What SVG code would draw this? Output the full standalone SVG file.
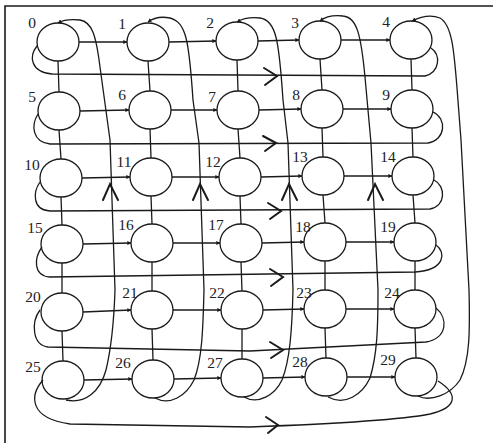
<svg xmlns="http://www.w3.org/2000/svg" width="493" height="443" viewBox="0 0 493 443">
<defs>
<style>
.n{fill:none;stroke:#1a1a1a;stroke-width:1.3}
.e{fill:none;stroke:#1a1a1a;stroke-width:1.3}
.h{fill:none;stroke:#1a1a1a;stroke-width:1.3;marker-end:url(#ah)}
.w{fill:none;stroke:#1a1a1a;stroke-width:1.3;marker-end:url(#ah)}
.c{fill:none;stroke:#1a1a1a;stroke-width:2;stroke-linecap:round;stroke-linejoin:miter}
.t{font-family:"Liberation Serif","Times New Roman",serif;font-size:15.5px;fill:#222;text-anchor:middle}
</style>
<marker id="ah" viewBox="0 0 6 6" refX="5.5" refY="3" markerWidth="4" markerHeight="4" orient="auto" markerUnits="userSpaceOnUse">
<path d="M0,0 L6,3 L0,6 Z" fill="#1a1a1a"/>
</marker>
</defs>
<rect width="493" height="443" fill="#fff"/>
<path d="M5,443 L5,6 L493,6" fill="none" stroke="#1a1a1a" stroke-width="1.6"/>

<g id="connectors">
<!-- horizontal edges -->
<path class="h" d="M79,42 L127,42"/><path class="h" d="M169,42 L216,41"/><path class="h" d="M258,41 L299,40"/><path class="h" d="M341,40 L390,40"/>
<path class="h" d="M80,111 L129,110"/><path class="h" d="M171,110 L217,110"/><path class="h" d="M259,110 L301,109"/><path class="h" d="M343,109 L391,109"/>
<path class="h" d="M82,178 L130,177"/><path class="h" d="M172,177 L219,177"/><path class="h" d="M261,177 L302,176"/><path class="h" d="M344,176 L392,176"/>
<path class="h" d="M83,244 L131,243"/><path class="h" d="M173,243 L220,243"/><path class="h" d="M262,243 L304,242"/><path class="h" d="M346,242 L394,242"/>
<path class="h" d="M83,312 L131,310"/><path class="h" d="M173,310 L221,310"/><path class="h" d="M263,310 L304,309"/><path class="h" d="M346,309 L394,309"/>
<path class="h" d="M84,380 L132,379"/><path class="h" d="M174,379 L221,378"/><path class="h" d="M263,378 L305,377"/><path class="h" d="M347,377 L395,377"/>
<!-- vertical edges -->
<path class="e" d="M58,61 L59,92 M59,130 L61,159 M61,197 L62,225 M62,263 L62,293 M62,331 L63,361"/>
<path class="e" d="M148,61 L150,91 M150,129 L151,158 M151,196 L152,224 M152,262 L152,291 M152,329 L153,360"/>
<path class="e" d="M237,60 L238,91 M238,129 L240,158 M240,196 L241,224 M241,262 L242,291 M242,329 L242,359"/>
<path class="e" d="M320,59 L322,90 M322,128 L323,157 M323,195 L325,223 M325,261 L325,290 M325,328 L326,358"/>
<path class="e" d="M411,59 L412,90 M412,128 L413,157 M413,195 L415,223 M415,261 L415,290 M415,328 L416,358"/>
<!-- row wraparounds -->
<path class="e" d="M37,46 C29,56 30,72 52,74 L425,76 C440,72 441,55 431,48"/>
<path class="e" d="M38,114 C31,125 32,142 50,144 L428,143 C446,140 447,118 433,112"/>
<path class="e" d="M40,182 C33,192 32,210 50,211 L430,209 C446,206 446,186 434,180"/>
<path class="e" d="M42,247 C34,258 33,276 50,277 L415,272 C446,270 446,252 436,245"/>
<path class="e" d="M40,310 C31,322 32,345 48,347 L250,351 L426,342 C448,338 448,318 436,308"/>
<path class="e" d="M43,380 C30,395 28,418 70,424 L250,427 C330,424 400,420 430,414 C456,408 460,395 438,381"/>
<!-- row wrap chevrons -->
<path class="c" d="M264,68 L277,76 L265,85"/>
<path class="c" d="M263,136 L276,143 L265,151"/>
<path class="c" d="M268,203 L281,211 L270,219"/>
<path class="c" d="M270,269 L283,277 L271,286"/>
<path class="c" d="M270,342 L283,350 L271,358"/>
<path class="c" d="M266,417 L278,425 L268,433"/>
<!-- column wraparounds -->
<path class="w" d="M66,400 C85,404 100,392 106,370 C112,345 114,320 115,290 L110,140 L100,67 C96,35 92,22 80,20 C70,19 63,20 58,23"/>
<path class="w" d="M155,398 C170,406 186,396 194,380 C202,360 203,330 204,290 L199,143 L193,100 C189,40 186,22 170,18 C160,16 152,19 148,22"/>
<path class="w" d="M244,397 C258,405 275,395 282,380 C290,360 292,330 293,290 L288,143 L283,100 C279,40 276,20 260,18 C250,17 242,19 237,22"/>
<path class="w" d="M328,397 C345,406 362,395 370,378 C377,355 378,330 378,290 L371,143 L365,77 C361,35 357,17 343,16 C333,15 325,17 320,21"/>
<path class="w" d="M418,396 C430,402 450,395 460,380 C470,360 470,330 469,290 L461,140 L457,88 C454,50 452,25 440,18 C430,14 420,17 412,21"/>
<!-- column wrap chevrons -->
<path class="c" d="M103,200 L110,184 L118,200"/>
<path class="c" d="M193,200 L200,184 L208,200"/>
<path class="c" d="M282,200 L289,184 L297,200"/>
<path class="c" d="M368,200 L375,184 L383,200"/>
</g>

<g id="node0"><ellipse class="n" cx="58" cy="42" rx="21" ry="19"/><text class="t" x="32" y="28">0</text></g>
<g id="node1"><ellipse class="n" cx="148" cy="42" rx="21" ry="19"/><text class="t" x="122" y="29">1</text></g>
<g id="node2"><ellipse class="n" cx="237" cy="41" rx="21" ry="19"/><text class="t" x="210" y="28">2</text></g>
<g id="node3"><ellipse class="n" cx="320" cy="40" rx="21" ry="19"/><text class="t" x="295" y="28">3</text></g>
<g id="node4"><ellipse class="n" cx="411" cy="40" rx="21" ry="19"/><text class="t" x="386" y="27">4</text></g>
<g id="node5"><ellipse class="n" cx="59" cy="111" rx="21" ry="19"/><text class="t" x="32" y="102">5</text></g>
<g id="node6"><ellipse class="n" cx="150" cy="110" rx="21" ry="19"/><text class="t" x="122" y="100">6</text></g>
<g id="node7"><ellipse class="n" cx="238" cy="110" rx="21" ry="19"/><text class="t" x="212" y="102">7</text></g>
<g id="node8"><ellipse class="n" cx="322" cy="109" rx="21" ry="19"/><text class="t" x="296" y="100">8</text></g>
<g id="node9"><ellipse class="n" cx="412" cy="109" rx="21" ry="19"/><text class="t" x="386" y="100">9</text></g>
<g id="node10"><ellipse class="n" cx="61" cy="178" rx="21" ry="19"/><text class="t" x="32" y="170">10</text></g>
<g id="node11"><ellipse class="n" cx="151" cy="177" rx="21" ry="19"/><text class="t" x="124" y="167">11</text></g>
<g id="node12"><ellipse class="n" cx="240" cy="177" rx="21" ry="19"/><text class="t" x="213" y="167">12</text></g>
<g id="node13"><ellipse class="n" cx="323" cy="176" rx="21" ry="19"/><text class="t" x="300" y="162">13</text></g>
<g id="node14"><ellipse class="n" cx="413" cy="176" rx="21" ry="19"/><text class="t" x="388" y="162">14</text></g>
<g id="node15"><ellipse class="n" cx="62" cy="244" rx="21" ry="19"/><text class="t" x="35" y="233">15</text></g>
<g id="node16"><ellipse class="n" cx="152" cy="243" rx="21" ry="19"/><text class="t" x="126" y="230">16</text></g>
<g id="node17"><ellipse class="n" cx="241" cy="243" rx="21" ry="19"/><text class="t" x="216" y="230">17</text></g>
<g id="node18"><ellipse class="n" cx="325" cy="242" rx="21" ry="19"/><text class="t" x="303" y="232">18</text></g>
<g id="node19"><ellipse class="n" cx="415" cy="242" rx="21" ry="19"/><text class="t" x="388" y="232">19</text></g>
<g id="node20"><ellipse class="n" cx="62" cy="312" rx="21" ry="19"/><text class="t" x="33" y="302">20</text></g>
<g id="node21"><ellipse class="n" cx="152" cy="310" rx="21" ry="19"/><text class="t" x="130" y="298">21</text></g>
<g id="node22"><ellipse class="n" cx="242" cy="310" rx="21" ry="19"/><text class="t" x="217" y="298">22</text></g>
<g id="node23"><ellipse class="n" cx="325" cy="309" rx="21" ry="19"/><text class="t" x="304" y="298">23</text></g>
<g id="node24"><ellipse class="n" cx="415" cy="309" rx="21" ry="19"/><text class="t" x="392" y="298">24</text></g>
<g id="node25"><ellipse class="n" cx="63" cy="380" rx="21" ry="19"/><text class="t" x="33" y="372">25</text></g>
<g id="node26"><ellipse class="n" cx="153" cy="379" rx="21" ry="19"/><text class="t" x="123" y="368">26</text></g>
<g id="node27"><ellipse class="n" cx="242" cy="378" rx="21" ry="19"/><text class="t" x="215" y="368">27</text></g>
<g id="node28"><ellipse class="n" cx="326" cy="377" rx="21" ry="19"/><text class="t" x="300" y="367">28</text></g>
<g id="node29"><ellipse class="n" cx="416" cy="377" rx="21" ry="19"/><text class="t" x="388" y="365">29</text></g>
</svg>
